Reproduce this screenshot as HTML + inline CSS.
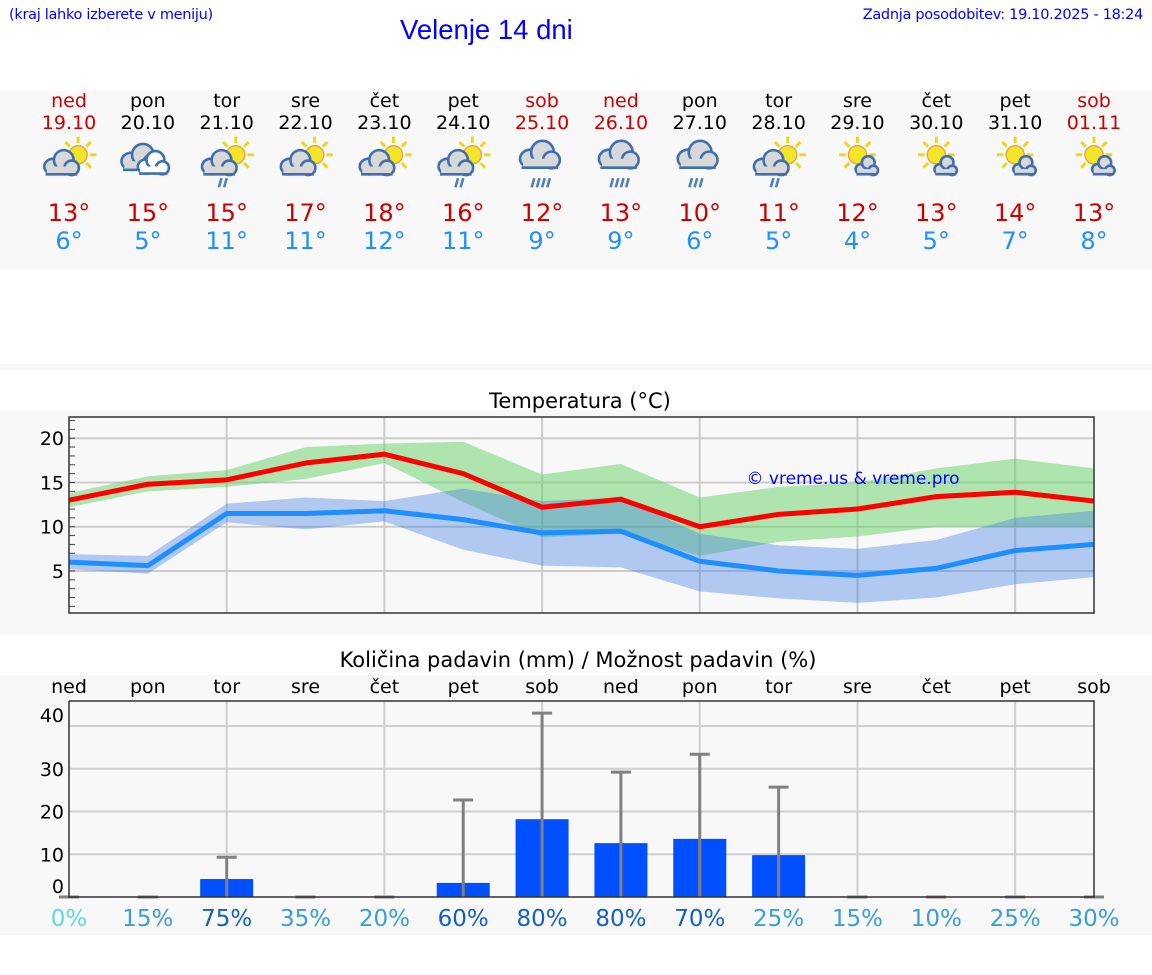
<!DOCTYPE html>
<html><head><meta charset="utf-8">
<style>
body{margin:0;width:1152px;height:975px;background:#fff;font-family:"DejaVu Sans","Liberation Sans",sans-serif;position:relative;overflow:hidden}
.abs{position:absolute}
</style></head>
<body>
<div class="abs" style="left:9px;top:7px;font-size:14.5px;color:#00f;font-family:'DejaVu Sans',sans-serif;letter-spacing:-0.3px">(kraj lahko izberete v meniju)</div>
<div class="abs" style="left:400px;top:14px;font-size:27.5px;color:#00f;font-family:'Liberation Sans',sans-serif">Velenje 14 dni</div>
<div class="abs" style="right:9px;top:7px;font-size:14.5px;color:#00f;font-family:'DejaVu Sans',sans-serif;letter-spacing:-0.3px">Zadnja posodobitev: 19.10.2025 - 18:24</div>
<div class="abs" style="left:0;top:90px;width:1152px;height:180px;background:#f8f8f8"></div>
<div class="abs" style="left:0;top:364px;width:1152px;height:6px;background:#f8f8f8"></div>
<svg id="main" class="abs" style="left:0;top:0" width="1152" height="975"></svg>
<script>
const days=["ned","pon","tor","sre","čet","pet","sob","ned","pon","tor","sre","čet","pet","sob"];
const dates=["19.10","20.10","21.10","22.10","23.10","24.10","25.10","26.10","27.10","28.10","29.10","30.10","31.10","01.11"];
const weekend=[1,0,0,0,0,0,1,1,0,0,0,0,0,1];
const icons=[0,1,2,0,0,2,3,3,4,2,5,5,5,5];
const tMax=[13.0,14.8,15.3,17.2,18.2,16.0,12.2,13.1,10.0,11.4,12.0,13.4,13.9,12.9];
const tMaxHi=[13.8,15.7,16.4,19.0,19.4,19.6,15.9,17.1,13.3,14.5,15.0,16.6,17.7,16.6];
const tMaxLo=[12.2,14.0,14.5,15.4,17.2,12.8,8.8,9.2,6.7,8.3,8.9,10.0,10.0,10.0];
const tMin=[6.0,5.6,11.5,11.5,11.8,10.8,9.3,9.5,6.1,5.0,4.5,5.3,7.3,8.0];
const tMinHi=[6.9,6.7,12.6,13.3,12.9,14.3,12.9,13.3,9.2,7.9,7.5,8.5,11.0,11.8];
const tMinLo=[5.2,4.7,10.5,9.7,10.6,7.4,5.6,5.4,2.7,1.9,1.4,2.0,3.5,4.3];
const hiLabels=[13,15,15,17,18,16,12,13,10,11,12,13,14,13];
const loLabels=[6,5,11,11,12,11,9,9,6,5,4,5,7,8];
const precip=[0,0,4.2,0,0,3.3,18.2,12.6,13.6,9.8,0,0,0,0];
const precipMax=[0,0,9.3,0,0,22.7,43,29.2,33.4,25.7,0,0,0,0];
const prob=[0,15,75,35,20,60,80,80,70,25,15,10,25,30];
const tTicks=[5,10,15,20];
const pTicks=[10,20,30,40];

const NS="http://www.w3.org/2000/svg";
const svg=document.getElementById('main');
function el(t,a,p){const e=document.createElementNS(NS,t);for(const k in a)e.setAttribute(k,a[k]);(p||svg).appendChild(e);return e;}
function xd(i){return 69+i*(1094-69)/13;}
const tY=v=>613-(v-0.25)*(613-417)/(22.4-0.25);
const pY=v=>897-v*4.275;

days.forEach((d,i)=>{
  const x=xd(i);
  const c=weekend[i]?'#c00':'#000';
  let t=el('text',{x:x,y:107,'text-anchor':'middle','font-size':19,fill:c});t.textContent=d;
  
  t=el('text',{x:x,y:129,'text-anchor':'middle','font-size':19,fill:c});t.textContent=dates[i];
  
  const g=el('g',{transform:`translate(${x},160) scale(1.3)`});
  
  const k=icons[i];
  function sun(sx,sy,r){for(let a=0;a<8;a++){const an=a*Math.PI/4;el('line',{x1:sx+Math.cos(an)*(r+2),y1:sy+Math.sin(an)*(r+2),x2:sx+Math.cos(an)*(r+7),y2:sy+Math.sin(an)*(r+7),stroke:'#e8d820','stroke-width':2.3},g);}el('circle',{cx:sx,cy:sy,r:r,fill:'#f4e42a',stroke:'#e8a040','stroke-width':1},g);}
  function cl(cx,cy,w,fill){el('ellipse',{cx:cx-w*0.3,cy:cy+2,rx:w*0.35,ry:w*0.3,fill:fill,stroke:'#3f6fb0','stroke-width':2},g);el('ellipse',{cx:cx+w*0.1,cy:cy-3,rx:w*0.38,ry:w*0.38,fill:fill,stroke:'#3f6fb0','stroke-width':2},g);el('ellipse',{cx:cx+w*0.4,cy:cy+3,rx:w*0.28,ry:w*0.28,fill:fill,stroke:'#3f6fb0','stroke-width':2},g);el('rect',{x:cx-w*0.55,y:cy+2,width:w*1.1,height:w*0.3,fill:fill},g);el('line',{x1:cx-w*0.6,x2:cx+w*0.62,y1:cy+2+w*0.3,y2:cy+2+w*0.3,stroke:'#3f6fb0','stroke-width':2},g);}
  function rain(n,cx){for(let j=0;j<n;j++)el('line',{x1:cx+j*4+2,y1:14,x2:cx+j*4,y2:21,stroke:'#5080b8','stroke-width':2},g);}
  if(k===0||k===2){sun(7,-4,7);cl(-6,3,20,'#d8d8d8');if(k===2)rain(2,-6);}
  else if(k===1){cl(-6,-1,22,'#d8d8d8');cl(4,3,18,'#fff');}
  else if(k===3||k===4){cl(-2,-3,23,'#d8d8d8');rain(k===3?4:3,-8);}
  else if(k===5){sun(0,-4,7);cl(7,5,13,'#d8d8d8');}
  t=el('text',{x:x,y:221,'text-anchor':'middle','font-size':24,fill:'#c00'});t.textContent=hiLabels[i]+'°';
  
  t=el('text',{x:x,y:249,'text-anchor':'middle','font-size':24,fill:'#1e90ff'});t.textContent=loLabels[i]+'°';
  
});

let bg=el('rect',{x:0,y:410,width:1152,height:225,fill:'#f8f8f8'});

let tt=el('text',{x:580,y:408,'text-anchor':'middle','font-size':21,fill:'#000'});tt.textContent='Temperatura (°C)';

tTicks.forEach(v=>{el('line',{x1:69,x2:1094,y1:tY(v),y2:tY(v),stroke:'#ccc','stroke-width':2});
  const l=el('text',{x:64,y:tY(v)+7,'text-anchor':'end','font-size':19});l.textContent=v;
  });
for(let v=1;v<=22;v++)el('line',{x1:69,x2:75,y1:tY(v),y2:tY(v),stroke:'#444','stroke-width':1});
for(let i=2;i<14;i+=2)el('line',{x1:xd(i),x2:xd(i),y1:417,y2:613,stroke:'#ccc','stroke-width':2});
function band(hi,lo,fill,name){const pts=hi.map((v,i)=>xd(i)+','+tY(v)).concat(lo.map((v,i)=>xd(i)+','+tY(v)).reverse());const p=el('polygon',{points:pts.join(' '),fill:fill});}
function line(a,c,name){const p=el('polyline',{points:a.map((v,i)=>xd(i)+','+tY(v)).join(' '),fill:'none',stroke:c,'stroke-width':5,'stroke-linejoin':'round'});}
band(tMaxHi,tMaxLo,'rgba(100,210,100,0.5)','max-temp-range');
band(tMinHi,tMinLo,'rgba(60,120,230,0.38)','min-temp-range');
line(tMax,'#f00','max-temp-line');
line(tMin,'#1e8fff','min-temp-line');
el('rect',{x:69,y:417,width:1025,height:196,fill:'none',stroke:'#333','stroke-width':1.5});
let cp=el('text',{x:853,y:484,'text-anchor':'middle','font-size':17,fill:'#00f'});cp.textContent='© vreme.us & vreme.pro';


bg=el('rect',{x:0,y:675,width:1152,height:260,fill:'#f8f8f8'});

tt=el('text',{x:578,y:667,'text-anchor':'middle','font-size':21});tt.textContent='Količina padavin (mm) / Možnost padavin (%)';

days.forEach((d,i)=>{const t=el('text',{x:xd(i),y:693,'text-anchor':'middle','font-size':19});t.textContent=d;
  });
pTicks.forEach(v=>{el('line',{x1:69,x2:1094,y1:pY(v),y2:pY(v),stroke:'#d0d0d0','stroke-width':2});
  const l=el('text',{x:64,y:Math.min(pY(v)+7,pY(v)+7-Math.max(0,v-35)*2.2),'text-anchor':'end','font-size':19});l.textContent=v;
  });
let z=el('text',{x:64,y:893,'text-anchor':'end','font-size':19});z.textContent='0';

for(let i=2;i<14;i+=2)el('line',{x1:xd(i),x2:xd(i),y1:701,y2:897,stroke:'#d0d0d0','stroke-width':2});
precip.forEach((v,i)=>{const x=xd(i);
  if(v>0){const b=el('rect',{x:x-26.5,y:pY(v),width:53,height:897-pY(v),fill:'#0050ff'});
    }
  const m=precipMax[i];
  el('line',{x1:x,x2:x,y1:pY(m),y2:897,stroke:'#808080','stroke-width':3});
  const cap=el('line',{x1:x-10,x2:x+10,y1:pY(m),y2:pY(m),stroke:'#808080','stroke-width':3});
  
  const c=prob[i]===0?'#5dd8e8':prob[i]>=60?'#1560c0':'#3a9ed8';
  const t=el('text',{x:x,y:926,'text-anchor':'middle','font-size':23,fill:c});t.textContent=prob[i]+'%';
  
});
el('polyline',{points:'69,701 1094,701 1094,897 69,897 69,701',fill:'none',stroke:'#333','stroke-width':1.5});
</script>
</body></html>
